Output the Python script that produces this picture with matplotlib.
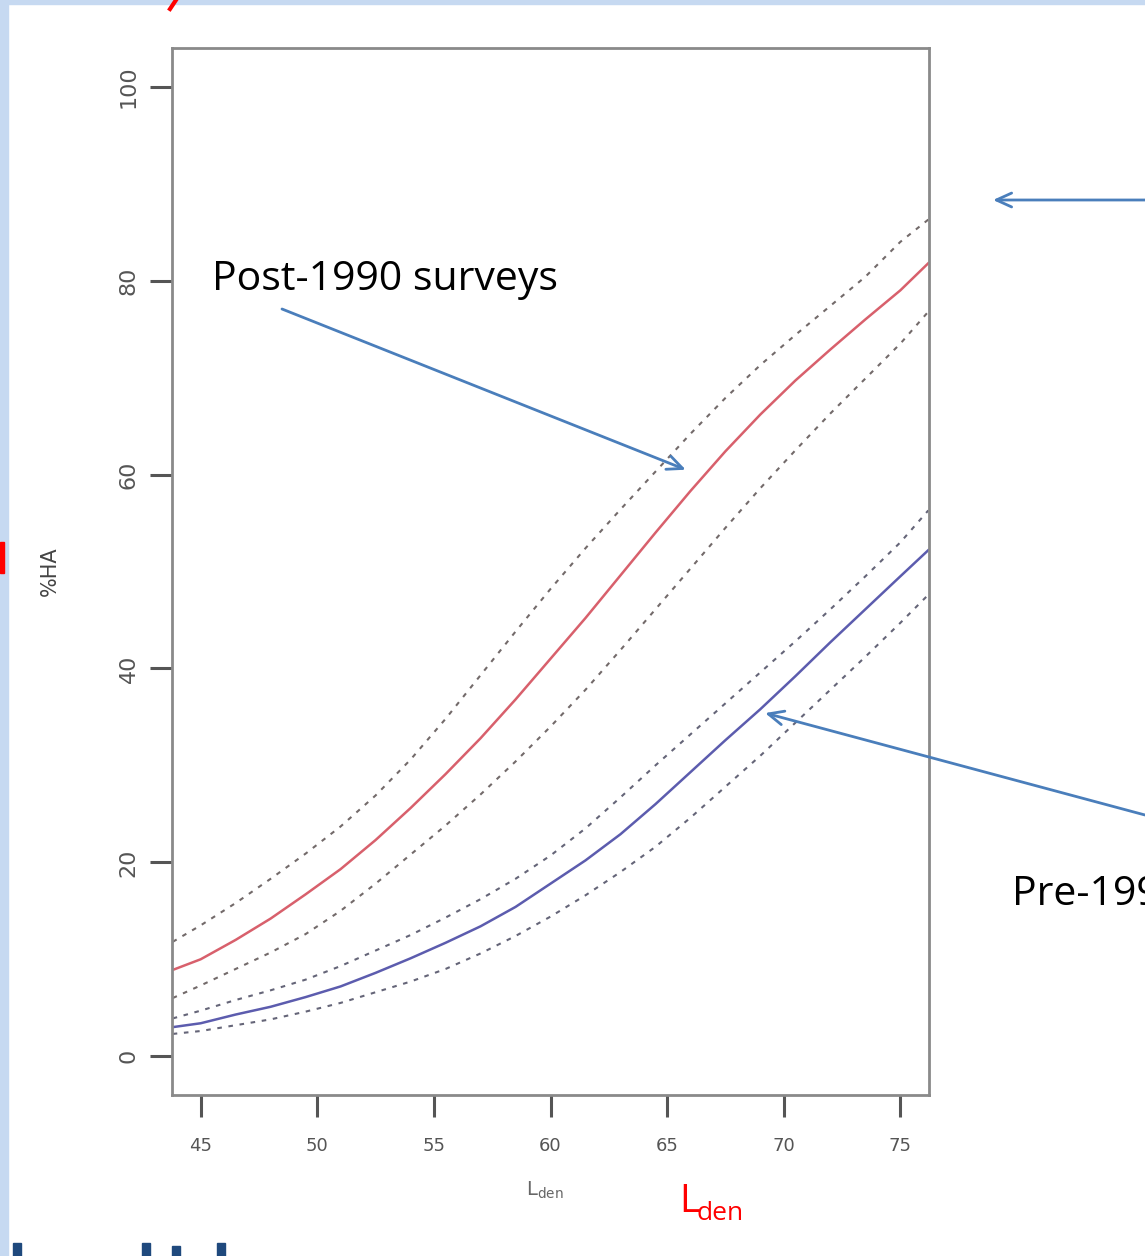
import matplotlib
matplotlib.use("Agg")
import matplotlib.pyplot as plt
from matplotlib.patches import Rectangle
from matplotlib.lines import Line2D

# ---- data ----
lden = [43.8, 45, 46.5, 48, 49.5, 51, 52.5, 54, 55.5, 57, 58.5, 60,
        61.5, 63, 64.5, 66, 67.5, 69, 70.5, 72, 73.5, 75, 76.2]
post_mid = [8.9, 10.0, 12.0, 14.2, 16.7, 19.3, 22.3, 25.6, 29.1, 32.8, 36.8, 41.0,
            45.2, 49.6, 54.0, 58.3, 62.4, 66.2, 69.7, 72.9, 76.0, 79.0, 81.8]
post_hi = [11.8, 13.5, 15.8, 18.3, 20.9, 23.7, 26.9, 30.6, 34.8, 39.3, 43.8, 48.2,
           52.4, 56.4, 60.3, 64.2, 67.9, 71.3, 74.4, 77.4, 80.4, 84.0, 86.3]
post_lo = [6.0, 7.3, 9.0, 10.7, 12.6, 15.0, 17.8, 20.8, 23.8, 27.0, 30.4, 34.0,
           37.8, 41.9, 46.1, 50.3, 54.5, 58.6, 62.5, 66.3, 69.9, 73.5, 76.8]
pre_mid = [3.0, 3.4, 4.3, 5.1, 6.1, 7.2, 8.6, 10.1, 11.7, 13.4, 15.4, 17.8,
           20.2, 22.9, 26.0, 29.3, 32.6, 35.8, 39.2, 42.7, 46.1, 49.5, 52.2]
pre_hi = [3.9, 4.7, 5.8, 6.8, 7.9, 9.3, 10.9, 12.5, 14.3, 16.2, 18.3, 20.7,
          23.5, 26.7, 30.0, 33.2, 36.4, 39.6, 42.8, 46.1, 49.5, 53.0, 56.3]
pre_lo = [2.3, 2.6, 3.2, 3.8, 4.6, 5.5, 6.6, 7.7, 9.0, 10.6, 12.4, 14.4,
          16.6, 19.0, 21.6, 24.6, 27.8, 31.0, 34.4, 37.8, 41.2, 44.7, 47.6]
xticks = [45, 50, 55, 60, 65, 70, 75]
yticks = [0, 20, 40, 60, 80, 100]

W, H = 1145, 1256
fig = plt.figure(figsize=(W / 100, H / 100), dpi=100)
fig.patch.set_facecolor("white")

def fx(x):
    return x / W

def fy(y):
    return 1 - y / H

# slide border strips and fragments of surrounding slide content
fig.patches.append(Rectangle((0, 0), fx(8), 1, transform=fig.transFigure,
                             color="#c6d9f1", zorder=0))
fig.patches.append(Rectangle((0, fy(4)), 1, 4 / H, transform=fig.transFigure,
                             color="#c6d9f1", zorder=0))
fig.patches.append(Rectangle((0, fy(573)), fx(4), 31 / H, transform=fig.transFigure,
                             color="#ff0000", zorder=1))
fig.lines.append(Line2D([fx(176), fx(170)], [fy(0), fy(9)], transform=fig.transFigure,
                        color="#ff0000", lw=3))
for x0, y0 in [(13, 1243), (142, 1243), (172, 1246), (217, 1243)]:
    fig.patches.append(Rectangle((fx(x0), 0), 8 / W, (H - y0) / H,
                                 transform=fig.transFigure, color="#1f497d", zorder=1))

ax = fig.add_axes([fx(172), fy(1095), fx(929) - fx(172), (1095 - 48) / H])
ax.set_xlim(43.77, 76.23)
ax.set_ylim(-4, 104)

dash = (0, (2.2, 3.2))
ax.plot(lden, post_hi, color="#5a5050", lw=1.5, ls=dash, alpha=0.85)
ax.plot(lden, post_lo, color="#5a5050", lw=1.5, ls=dash, alpha=0.85)
ax.plot(lden, post_mid, color="#d8606c", lw=1.8)
ax.plot(lden, pre_hi, color="#4a4a60", lw=1.5, ls=dash, alpha=0.85)
ax.plot(lden, pre_lo, color="#4a4a60", lw=1.5, ls=dash, alpha=0.85)
ax.plot(lden, pre_mid, color="#5c5cae", lw=1.8)

for s in ax.spines.values():
    s.set_color("#8a8a8a")
    s.set_linewidth(2)

ax.set_xticks(xticks)
ax.set_yticks(yticks)
ax.set_xticklabels([str(v) for v in xticks])
ax.set_yticklabels([str(v) for v in yticks], rotation=90, va="center")
ax.tick_params(axis="both", colors="#555555", length=16, width=2.2,
               labelcolor="#555555")
ax.tick_params(axis="x", pad=14, labelsize=13)
ax.tick_params(axis="y", pad=8, labelsize=16)

ax.set_ylabel("%HA", fontsize=15, color="#444444", labelpad=42)
fig.text(fx(545), fy(1190), r"$\mathrm{L}_{\mathrm{den}}$", fontsize=14,
         color="#666666", ha="center", va="center")

# annotations
txtfont = "Open Sans"
fig.text(fx(212), fy(290), "Post-1990 surveys", fontsize=29.5, family=txtfont,
         color="black", ha="left", va="baseline")
fig.text(fx(1012), fy(905), "Pre-1990 surveys", fontsize=29.5, family=txtfont,
         color="black", ha="left", va="baseline")
fig.text(fx(679), fy(1212), "L", fontsize=28, family=txtfont, color="#ff0000",
         ha="left", va="baseline")
fig.text(fx(697), fy(1220), "den", fontsize=19, family=txtfont, color="#ff0000",
         ha="left", va="baseline")

arrow_kw = dict(arrowstyle="->,head_length=1.1,head_width=0.5",
                color="#4a7ebb", lw=2, shrinkA=0, shrinkB=0)
ax.annotate("", xy=(65.8, 60.5), xycoords="data",
            xytext=(fx(282), fy(309)), textcoords="figure fraction",
            arrowprops=arrow_kw, annotation_clip=False)
ax.annotate("", xy=(69.2, 35.4), xycoords="data",
            xytext=(fx(1145), fy(815)), textcoords="figure fraction",
            arrowprops=arrow_kw, annotation_clip=False)
ax.annotate("", xy=(fx(993), fy(200)), xycoords="figure fraction",
            xytext=(fx(1145), fy(200)), textcoords="figure fraction",
            arrowprops=arrow_kw, annotation_clip=False)

fig.savefig("out.png", dpi=100, facecolor="white")
